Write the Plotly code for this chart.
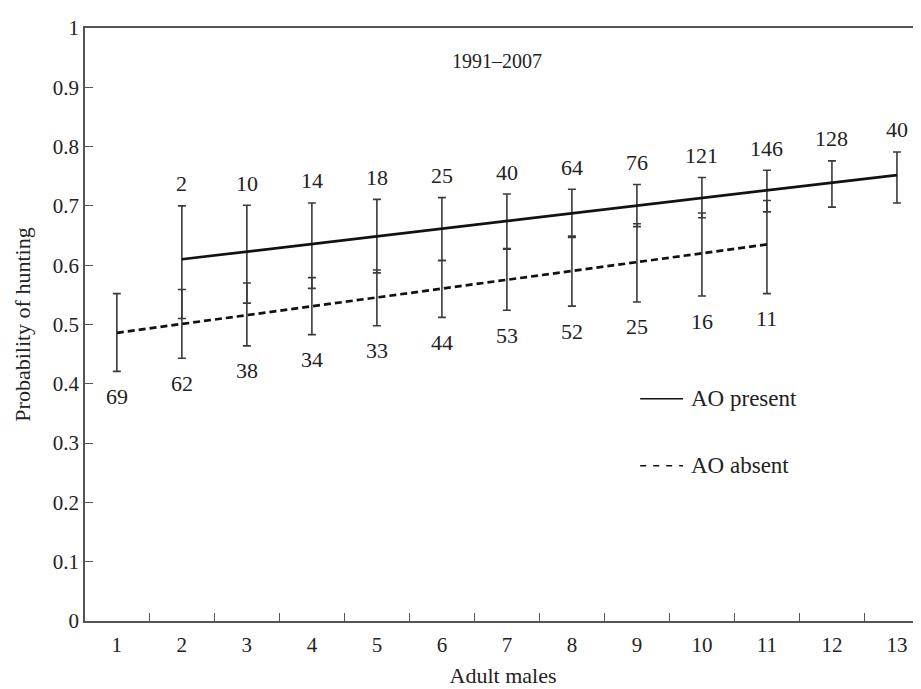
import plotly.graph_objects as go

# ---- data ----
present_x = [2, 3, 4, 5, 6, 7, 8, 9, 10, 11, 12, 13]
present_y = [0.610, 0.623, 0.636, 0.649, 0.662, 0.675, 0.687, 0.700, 0.713, 0.726, 0.739, 0.752]
present_hi = [0.700, 0.701, 0.705, 0.711, 0.714, 0.720, 0.728, 0.736, 0.748, 0.760, 0.776, 0.791]
present_lo = [0.510, 0.536, 0.561, 0.587, 0.608, 0.628, 0.647, 0.665, 0.680, 0.690, 0.698, 0.705]
present_n = ["2", "10", "14", "18", "25", "40", "64", "76", "121", "146", "128", "40"]

absent_x = [1, 2, 3, 4, 5, 6, 7, 8, 9, 10, 11]
absent_y = [0.486, 0.501, 0.516, 0.531, 0.545, 0.560, 0.575, 0.590, 0.605, 0.620, 0.635]
absent_hi = [0.552, 0.559, 0.570, 0.579, 0.592, 0.608, 0.627, 0.649, 0.670, 0.688, 0.709]
absent_lo = [0.421, 0.443, 0.464, 0.483, 0.498, 0.512, 0.524, 0.531, 0.538, 0.548, 0.552]
absent_n = ["69", "62", "38", "34", "33", "44", "53", "52", "25", "16", "11"]

x_ticks = list(range(1, 14))
y_ticks = [0, 0.1, 0.2, 0.3, 0.4, 0.5, 0.6, 0.7, 0.8, 0.9, 1]
y_ticktext = ["0", "0.1", "0.2", "0.3", "0.4", "0.5", "0.6", "0.7", "0.8", "0.9", "1"]

FONT = "Liberation Serif"
INK = "#222222"
BAR = "#3a3a3a"
AXIS = "#555555"

fig = go.Figure()

fig.add_trace(go.Scatter(
    x=present_x, y=present_y, mode="lines",
    line=dict(color="#111111", width=2.7),
    error_y=dict(type="data", symmetric=False,
                 array=[h - y for h, y in zip(present_hi, present_y)],
                 arrayminus=[y - l for l, y in zip(present_lo, present_y)],
                 color=BAR, thickness=1.6, width=4),
    showlegend=False,
))
fig.add_trace(go.Scatter(
    x=absent_x, y=absent_y, mode="lines",
    line=dict(color="#111111", width=2.7, dash="7px,4px"),
    error_y=dict(type="data", symmetric=False,
                 array=[h - y for h, y in zip(absent_hi, absent_y)],
                 arrayminus=[y - l for l, y in zip(absent_lo, absent_y)],
                 color=BAR, thickness=1.6, width=4),
    showlegend=False,
))

annotations = []
for x, h, t in zip(present_x, present_hi, present_n):
    annotations.append(dict(x=x, y=h, text=t, showarrow=False, yshift=22,
                            yanchor="middle", font=dict(family=FONT, size=22, color=INK)))
for x, l, t in zip(absent_x, absent_lo, absent_n):
    annotations.append(dict(x=x, y=l, text=t, showarrow=False, yshift=-25,
                            yanchor="middle", font=dict(family=FONT, size=22, color=INK)))

annotations.append(dict(x=6.85, y=0.944, text="1991–2007", showarrow=False,
                        font=dict(family=FONT, size=20, color=INK)))

# legend (drawn manually)
annotations.append(dict(x=9.8, y=0.375, text="AO present", showarrow=False, xanchor="left",
                        font=dict(family=FONT, size=23, color=INK)))
annotations.append(dict(x=9.8, y=0.262, text="AO absent", showarrow=False, xanchor="left",
                        font=dict(family=FONT, size=23, color=INK)))
shapes = [
    dict(type="line", x0=9.05, x1=9.71, y0=0.375, y1=0.375, line=dict(color="#111111", width=1.5)),
    dict(type="line", x0=9.05, x1=9.71, y0=0.262, y1=0.262, line=dict(color="#111111", width=1.5, dash="6px,7px")),
]

fig.update_layout(
    width=921, height=689,
    margin=dict(l=77, r=8, t=10, b=76),
    paper_bgcolor="white", plot_bgcolor="white",
    font=dict(family=FONT, size=20, color=INK),
    annotations=annotations, shapes=shapes,
    xaxis=dict(range=[0.51, 13.37], tickvals=x_ticks, ticktext=[str(v) for v in x_ticks],
               ticks="", showgrid=False, zeroline=False, ticklabelstandoff=4,
               showline=True, linecolor=AXIS, linewidth=1.6, mirror=True,
               minor=dict(ticks="inside", tick0=0.5, dtick=1, ticklen=8, tickcolor=AXIS, showgrid=False),
               tickfont=dict(family=FONT, size=21, color=INK),
               title=dict(text="Adult males", font=dict(family=FONT, size=22, color=INK), standoff=12)),
    yaxis=dict(range=[0, 1], tickvals=y_ticks, ticktext=y_ticktext,
               ticks="inside", ticklen=8, tickcolor=AXIS, showgrid=False, zeroline=False,
               ticklabeloverflow="allow",
               showline=True, linecolor=AXIS, linewidth=1.6, mirror=False,
               tickfont=dict(family=FONT, size=21, color=INK),
               title=dict(text="Probability of hunting", font=dict(family=FONT, size=22, color=INK), standoff=16)),
)

fig.write_html("out.html")
